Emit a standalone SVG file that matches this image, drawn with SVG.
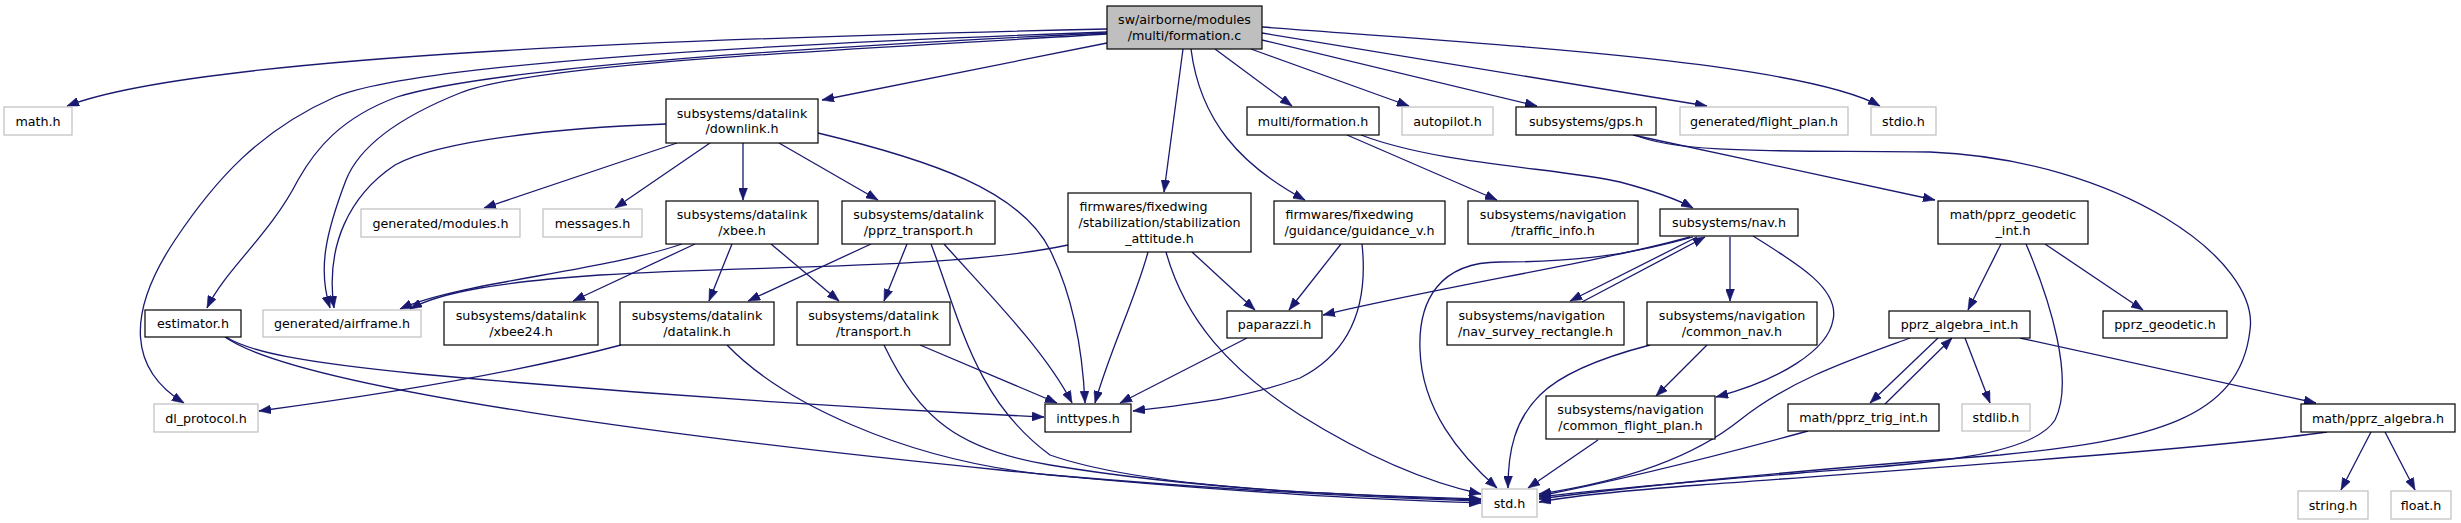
<svg xmlns="http://www.w3.org/2000/svg" width="2461" height="523" viewBox="0 0 2461 523">
<style>
.n rect{fill:#fff;stroke:#000;stroke-width:1.2}
.x rect{fill:#fff;stroke:#bfbfbf;stroke-width:1.2}
.r rect{fill:#bfbfbf;stroke:#000;stroke-width:1.2}
text{font-family:"DejaVu Sans",sans-serif;font-size:12.7px;fill:#000}
.c{text-anchor:middle}
.l{text-anchor:start}
#edges path{fill:none;stroke:#191970;stroke-width:1.3;marker-end:url(#a)}
</style>
<defs>
<marker id="a" markerUnits="userSpaceOnUse" viewBox="0 0 12 9" refX="12" refY="4.5" markerWidth="12" markerHeight="9" orient="auto">
<path d="M0,0 L12,4.5 L0,9 z" fill="#191970" stroke="#191970" stroke-width="0.5"/>
</marker>
</defs>
<rect width="2461" height="523" fill="#fff"/>
<g id="edges">
<path d="M1107,29 C700,38 200,55 67,106"/>
<path d="M1107,43 L822,100"/>
<path d="M1107,32 C880,40 430,58 335,97 C260,130 215,180 175,240 C125,315 130,370 184,403"/>
<path d="M1107,33 C850,45 500,65 397,97 C340,118 315,150 298,180 C270,235 225,270 207,308"/>
<path d="M1107,34 C850,50 540,62 460,93 C400,117 360,145 346,180 C325,235 318,270 330,308"/>
<path d="M1183,49 L1164,192"/>
<path d="M1191,49 C1200,120 1240,165 1305,200"/>
<path d="M1215,49 L1292,106"/>
<path d="M1251,49 L1409,106"/>
<path d="M1262,40 L1537,106"/>
<path d="M1262,33 L1707,106"/>
<path d="M1262,27 C1500,45 1800,62 1880,106"/>
<path d="M677,143 L484,208"/>
<path d="M710,143 L615,208"/>
<path d="M743,143 L743,200"/>
<path d="M779,143 L878,200"/>
<path d="M818,133 C930,160 1020,190 1050,250 C1075,300 1083,360 1085,403"/>
<path d="M666,124 C560,128 440,140 395,165 C350,195 325,245 334,308"/>
<path d="M682,244 C600,272 460,282 400,309"/>
<path d="M695,244 L573,301"/>
<path d="M732,244 L709,301"/>
<path d="M771,244 L839,301"/>
<path d="M871,244 L748,301"/>
<path d="M907,244 L884,301"/>
<path d="M944,244 C985,290 1045,350 1072,403"/>
<path d="M931,244 C960,320 975,400 1050,455 C1150,490 1350,495 1481,499"/>
<path d="M1068,245 C950,270 750,265 600,275 C500,282 440,292 410,309"/>
<path d="M1148,252 C1135,300 1110,350 1095,403"/>
<path d="M1166,252 C1185,320 1230,370 1300,415 C1380,465 1440,485 1481,494"/>
<path d="M1192,252 L1255,310"/>
<path d="M1341,244 L1289,310"/>
<path d="M1362,244 C1368,300 1355,350 1300,378 C1240,400 1180,405 1133,411"/>
<path d="M1347,135 L1497,200"/>
<path d="M1361,135 C1440,165 1560,168 1620,182 C1650,190 1675,198 1693,208"/>
<path d="M1633,135 L1935,200"/>
<path d="M1635,135 C1680,155 1800,150 1930,152 C2120,160 2260,260 2250,330 C2240,420 2150,440 2000,455 C1800,470 1620,488 1539,499"/>
<path d="M226,337 C250,352 300,362 420,374 C650,395 850,408 1044,417"/>
<path d="M225,337 C300,390 700,440 1000,470 C1250,495 1400,500 1481,503"/>
<path d="M621,345 C520,372 400,392 259,411"/>
<path d="M727,345 C780,400 900,460 1050,475 C1250,492 1380,498 1481,501"/>
<path d="M920,345 L1057,403"/>
<path d="M884,345 C920,420 960,450 1050,465 C1200,490 1350,495 1481,500"/>
<path d="M1247,338 L1120,403"/>
<path d="M1697,237 L1570,301"/>
<path d="M1730,237 L1730,301"/>
<path d="M1690,237 C1600,262 1450,285 1323,315"/>
<path d="M1693,237 C1620,258 1560,262 1500,262 C1440,262 1418,300 1420,350 C1422,410 1460,455 1497,488"/>
<path d="M1753,236 C1800,265 1840,290 1833,320 C1828,350 1780,380 1716,397"/>
<path d="M1582,302 L1705,237"/>
<path d="M1707,345 L1656,396"/>
<path d="M1650,345 C1600,358 1560,375 1540,395 C1515,420 1508,450 1508,488"/>
<path d="M1598,440 L1528,488"/>
<path d="M2001,244 L1968,310"/>
<path d="M2045,244 L2143,310"/>
<path d="M2026,244 C2050,300 2075,380 2055,420 C2030,460 1900,465 1800,473 C1650,485 1580,492 1539,497"/>
<path d="M1938,338 L1870,403"/>
<path d="M1965,338 L1990,403"/>
<path d="M2020,338 L2316,403"/>
<path d="M1910,338 C1850,360 1790,380 1740,420 C1690,460 1620,482 1539,494"/>
<path d="M1885,404 L1952,338"/>
<path d="M1808,431 C1720,455 1620,480 1539,496"/>
<path d="M2371,432 L2341,490"/>
<path d="M2385,432 L2415,490"/>
<path d="M2327,432 C2200,450 1900,470 1700,485 C1620,491 1570,496 1539,502"/>
</g>
<g id="n_formation_c" class="r"><rect x="1107" y="6" width="155" height="43"/><text class="c" x="1184.5" y="24.2">sw/airborne/modules</text><text class="c" x="1184.5" y="39.8">/multi/formation.c</text></g>
<g id="n_math" class="x"><rect x="4" y="107" width="68" height="28"/><text class="c" x="38" y="125.5">math.h</text></g>
<g id="n_downlink" class="n"><rect x="666" y="99" width="152" height="44"/><text class="c" x="742" y="117.7">subsystems/datalink</text><text class="c" x="742" y="133.3">/downlink.h</text></g>
<g id="n_multi_formation" class="n"><rect x="1247" y="107" width="132" height="28"/><text class="c" x="1313" y="125.5">multi/formation.h</text></g>
<g id="n_autopilot" class="x"><rect x="1402" y="107" width="91" height="28"/><text class="c" x="1447.5" y="125.5">autopilot.h</text></g>
<g id="n_gps" class="n"><rect x="1516" y="107" width="140" height="28"/><text class="c" x="1586" y="125.5">subsystems/gps.h</text></g>
<g id="n_flight_plan" class="x"><rect x="1680" y="107" width="168" height="28"/><text class="c" x="1764" y="125.5">generated/flight_plan.h</text></g>
<g id="n_stdio" class="x"><rect x="1871" y="107" width="65" height="28"/><text class="c" x="1903.5" y="125.5">stdio.h</text></g>
<g id="n_modules" class="x"><rect x="361" y="209" width="159" height="28"/><text class="c" x="440.5" y="227.5">generated/modules.h</text></g>
<g id="n_messages" class="x"><rect x="543" y="209" width="99" height="28"/><text class="c" x="592.5" y="227.5">messages.h</text></g>
<g id="n_xbee" class="n"><rect x="666" y="201" width="152" height="43"/><text class="c" x="742" y="219.2">subsystems/datalink</text><text class="c" x="742" y="234.8">/xbee.h</text></g>
<g id="n_pprz_transport" class="n"><rect x="842" y="201" width="153" height="43"/><text class="c" x="918.5" y="219.2">subsystems/datalink</text><text class="c" x="918.5" y="234.8">/pprz_transport.h</text></g>
<g id="n_stabilization_attitude" class="n"><rect x="1068" y="193" width="183" height="59"/><text class="l" x="1079.5" y="211.4">firmwares/fixedwing</text><text class="c" x="1159.5" y="227">/stabilization/stabilization</text><text class="c" x="1159.5" y="242.6">_attitude.h</text></g>
<g id="n_guidance_v" class="n"><rect x="1274" y="201" width="171" height="43"/><text class="l" x="1285.5" y="219.2">firmwares/fixedwing</text><text class="c" x="1359.5" y="234.8">/guidance/guidance_v.h</text></g>
<g id="n_traffic_info" class="n"><rect x="1468" y="201" width="170" height="43"/><text class="c" x="1553" y="219.2">subsystems/navigation</text><text class="c" x="1553" y="234.8">/traffic_info.h</text></g>
<g id="n_nav" class="n"><rect x="1660" y="209" width="138" height="27"/><text class="c" x="1729" y="227">subsystems/nav.h</text></g>
<g id="n_pprz_geodetic_int" class="n"><rect x="1938" y="201" width="150" height="43"/><text class="c" x="2013" y="219.2">math/pprz_geodetic</text><text class="c" x="2013" y="234.8">_int.h</text></g>
<g id="n_estimator" class="n"><rect x="145" y="310" width="96" height="27"/><text class="c" x="193" y="328">estimator.h</text></g>
<g id="n_airframe" class="x"><rect x="263" y="310" width="158" height="27"/><text class="c" x="342" y="328">generated/airframe.h</text></g>
<g id="n_xbee24" class="n"><rect x="444" y="302" width="154" height="43"/><text class="c" x="521" y="320.2">subsystems/datalink</text><text class="c" x="521" y="335.8">/xbee24.h</text></g>
<g id="n_datalink" class="n"><rect x="620" y="302" width="154" height="43"/><text class="c" x="697" y="320.2">subsystems/datalink</text><text class="c" x="697" y="335.8">/datalink.h</text></g>
<g id="n_transport" class="n"><rect x="797" y="302" width="153" height="43"/><text class="c" x="873.5" y="320.2">subsystems/datalink</text><text class="c" x="873.5" y="335.8">/transport.h</text></g>
<g id="n_paparazzi" class="n"><rect x="1227" y="311" width="95" height="27"/><text class="c" x="1274.5" y="329">paparazzi.h</text></g>
<g id="n_nav_survey_rectangle" class="n"><rect x="1447" y="302" width="177" height="43"/><text class="l" x="1458.5" y="320.2">subsystems/navigation</text><text class="c" x="1535.5" y="335.8">/nav_survey_rectangle.h</text></g>
<g id="n_common_nav" class="n"><rect x="1647" y="302" width="170" height="43"/><text class="c" x="1732" y="320.2">subsystems/navigation</text><text class="c" x="1732" y="335.8">/common_nav.h</text></g>
<g id="n_pprz_algebra_int" class="n"><rect x="1889" y="311" width="141" height="27"/><text class="c" x="1959.5" y="329">pprz_algebra_int.h</text></g>
<g id="n_pprz_geodetic" class="n"><rect x="2103" y="311" width="124" height="27"/><text class="c" x="2165" y="329">pprz_geodetic.h</text></g>
<g id="n_dl_protocol" class="x"><rect x="154" y="404" width="104" height="28"/><text class="c" x="206" y="422.5">dl_protocol.h</text></g>
<g id="n_inttypes" class="n"><rect x="1045" y="404" width="86" height="28"/><text class="c" x="1088" y="422.5">inttypes.h</text></g>
<g id="n_common_flight_plan" class="n"><rect x="1546" y="396" width="169" height="43"/><text class="c" x="1630.5" y="414.2">subsystems/navigation</text><text class="c" x="1630.5" y="429.8">/common_flight_plan.h</text></g>
<g id="n_pprz_trig_int" class="n"><rect x="1788" y="404" width="151" height="27"/><text class="c" x="1863.5" y="422">math/pprz_trig_int.h</text></g>
<g id="n_stdlib" class="x"><rect x="1962" y="404" width="68" height="27"/><text class="c" x="1996" y="422">stdlib.h</text></g>
<g id="n_pprz_algebra" class="n"><rect x="2301" y="404" width="154" height="28"/><text class="c" x="2378" y="422.5">math/pprz_algebra.h</text></g>
<g id="n_std" class="x"><rect x="1482" y="489" width="55" height="28"/><text class="c" x="1509.5" y="507.5">std.h</text></g>
<g id="n_string" class="x"><rect x="2298" y="491" width="70" height="28"/><text class="c" x="2333" y="509.5">string.h</text></g>
<g id="n_float" class="x"><rect x="2391" y="491" width="60" height="28"/><text class="c" x="2421" y="509.5">float.h</text></g>
</svg>
